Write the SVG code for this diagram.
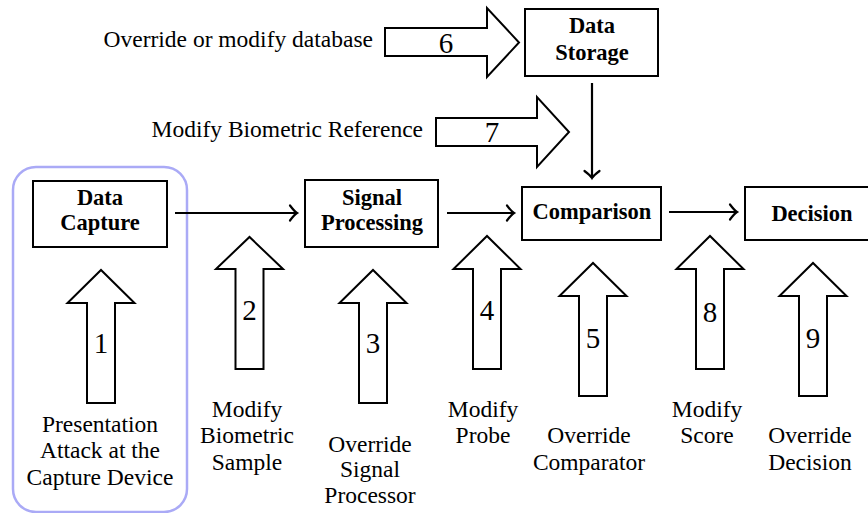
<svg xmlns="http://www.w3.org/2000/svg" width="868" height="513" viewBox="0 0 868 513" font-family="Liberation Serif, serif">
  <style>
    .box { fill: #fff; stroke: #000; stroke-width: 2; }
    .blk { fill: #fff; stroke: #000; stroke-width: 2; stroke-linejoin: miter; }
    .conn { fill: none; stroke: #000; stroke-width: 2.2; }
    text { fill: #000; text-anchor: middle; }
    .bold { font-weight: bold; font-size: 22.5px; }
    .lbl { font-size: 23.5px; }
    .num { font-size: 29px; }
    .end { text-anchor: end; }
    .group { fill: none; stroke: #aaaaf6; stroke-width: 2.5; }
  </style>
  <defs>
    <marker id="tip" markerUnits="userSpaceOnUse" markerWidth="20" markerHeight="20" viewBox="-10 -10 20 20" refX="0" refY="0" orient="auto">
      <path d="M -7 -7.5 Q -2.5 -1.5 0 0 Q -2.5 1.5 -7 7.5" fill="none" stroke="#000" stroke-width="2.2" stroke-linecap="round"/>
    </marker>
  </defs>

  <!-- capture-stage highlight -->
  <rect id="capture-group" class="group" x="13" y="167" width="174" height="345" rx="23" ry="23"/>

  <!-- processing pipeline nodes -->
  <g id="data-capture">
    <rect class="box" x="33" y="181" width="134" height="66"/>
    <text class="bold" x="100" y="205">Data</text>
    <text class="bold" x="100" y="230">Capture</text>
  </g>
  <g id="signal-processing">
    <rect class="box" x="305" y="180" width="133" height="67"/>
    <text class="bold" x="372" y="205">Signal</text>
    <text class="bold" x="372" y="230">Processing</text>
  </g>
  <g id="data-storage">
    <rect class="box" x="525" y="9" width="133" height="67"/>
    <text class="bold" x="592" y="33">Data</text>
    <text class="bold" x="592" y="60">Storage</text>
  </g>
  <g id="comparison">
    <rect class="box" x="522" y="187" width="139" height="53"/>
    <text class="bold" x="592" y="219">Comparison</text>
  </g>
  <g id="decision">
    <rect class="box" x="745" y="187" width="130" height="53"/>
    <text class="bold" x="812" y="221">Decision</text>
  </g>

  <!-- data flow -->
  <g id="connectors">
    <path class="conn" d="M175 213 H297" marker-end="url(#tip)"/>
    <path class="conn" d="M447 213 H514" marker-end="url(#tip)"/>
    <path class="conn" d="M669 212 H737" marker-end="url(#tip)"/>
    <path class="conn" d="M592 83 V178" marker-end="url(#tip)"/>
  </g>

  <!-- attack points -->
  <g id="attack-1">
    <path class="blk" d="M87 403 V303 H67.5 L101 270 L134.5 303 H115 V403 Z"/>
    <text class="num" x="101" y="353">1</text>
    <text class="lbl" x="100" y="432">Presentation</text>
    <text class="lbl" x="100" y="458">Attack at the</text>
    <text class="lbl" x="100" y="485">Capture Device</text>
  </g>
  <g id="attack-2">
    <path class="blk" d="M235.5 369 V269 H216 L249.5 237 L283 269 H263.5 V369 Z"/>
    <text class="num" x="249.5" y="320">2</text>
    <text class="lbl" x="247" y="417">Modify</text>
    <text class="lbl" x="247" y="443">Biometric</text>
    <text class="lbl" x="247" y="470">Sample</text>
  </g>
  <g id="attack-3">
    <path class="blk" d="M359 403 V303 H339.5 L373 270 L406.5 303 H387 V403 Z"/>
    <text class="num" x="373" y="353">3</text>
    <text class="lbl" x="370" y="452">Override</text>
    <text class="lbl" x="370" y="477">Signal</text>
    <text class="lbl" x="370" y="503">Processor</text>
  </g>
  <g id="attack-4">
    <path class="blk" d="M473 369 V269 H453.5 L487 236 L520.5 269 H501 V369 Z"/>
    <text class="num" x="487" y="320">4</text>
    <text class="lbl" x="483" y="417">Modify</text>
    <text class="lbl" x="483" y="443">Probe</text>
  </g>
  <g id="attack-5">
    <path class="blk" d="M579 396 V296 H559.5 L593 263 L626.5 296 H607 V396 Z"/>
    <text class="num" x="593" y="348">5</text>
    <text class="lbl" x="589" y="443">Override</text>
    <text class="lbl" x="589" y="470">Comparator</text>
  </g>
  <g id="attack-6">
    <path class="blk" d="M385 28 H487 V8 L519 42.5 L487 77 V56 H385 Z"/>
    <text class="num" x="446" y="53">6</text>
    <text class="lbl end" x="373" y="47">Override or modify database</text>
  </g>
  <g id="attack-7">
    <path class="blk" d="M436 118 H537 V97 L569 132 L537 167 V146 H436 Z"/>
    <text class="num" x="492" y="142">7</text>
    <text class="lbl end" x="423" y="137">Modify Biometric Reference</text>
  </g>
  <g id="attack-8">
    <path class="blk" d="M696 369 V269 H676.5 L710 236 L743.5 269 H724 V369 Z"/>
    <text class="num" x="710" y="322">8</text>
    <text class="lbl" x="707" y="417">Modify</text>
    <text class="lbl" x="707" y="443">Score</text>
  </g>
  <g id="attack-9">
    <path class="blk" d="M799 396 V296 H779.5 L813 263 L846.5 296 H827 V396 Z"/>
    <text class="num" x="813" y="348">9</text>
    <text class="lbl" x="810" y="443">Override</text>
    <text class="lbl" x="810" y="470">Decision</text>
  </g>
</svg>
